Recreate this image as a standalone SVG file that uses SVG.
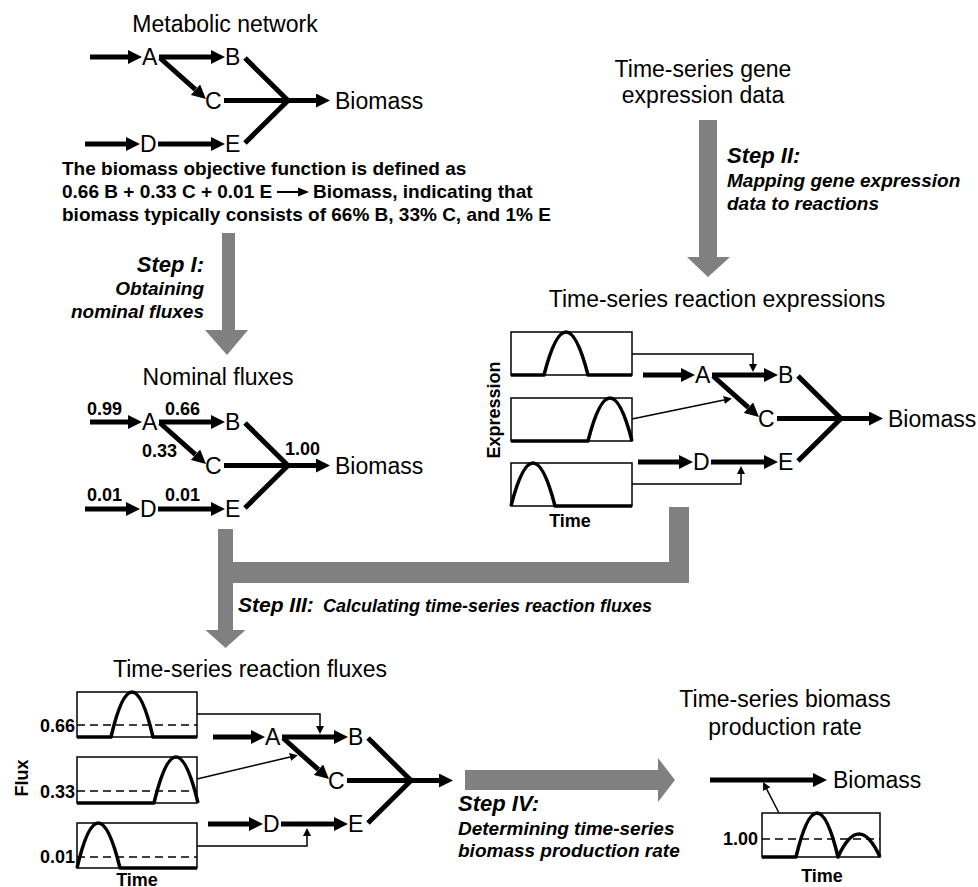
<svg xmlns="http://www.w3.org/2000/svg" xmlns:xlink="http://www.w3.org/1999/xlink" width="978" height="887" viewBox="0 0 978 887">
<style>
text{font-family:"Liberation Sans",Arial,sans-serif;fill:#000}
.ttl{font-size:23px;text-anchor:middle}
.lt{font-size:23px}
.bd{font-size:19px;font-weight:bold}
.num{font-size:18px;font-weight:bold}
.ax{font-size:18px;font-weight:bold;text-anchor:middle}
.sh{font-size:22px;font-weight:bold;font-style:italic}
.ss{font-size:19px;font-weight:bold;font-style:italic}
.thk{stroke:#000;stroke-width:5;fill:none}
.thin{stroke:#000;stroke-width:1.5;fill:none}
.box{stroke:#000;stroke-width:1.5;fill:#fff}
.crv{stroke:#000;stroke-width:3.5;fill:none;stroke-linejoin:round}
.dsh{stroke:#000;stroke-width:1.3;stroke-dasharray:8 5;fill:none}
.gray{fill:#808080}
</style>
<defs>
<marker id="hd" markerUnits="userSpaceOnUse" viewBox="0 -7 14 14" refX="0" refY="0" markerWidth="14" markerHeight="14" orient="auto"><path d="M0,-7 L14,0 L0,7z" fill="#000"/></marker>
<marker id="hs" markerUnits="userSpaceOnUse" viewBox="0 -4 8 8" refX="0" refY="0" markerWidth="8" markerHeight="8" orient="auto"><path d="M0,-4 L8,0 L0,4z" fill="#000"/></marker>
<g id="net">
<path class="thk" d="M90,57 H128" marker-end="url(#hd)"/>
<path class="thk" d="M159,57 H211" marker-end="url(#hd)"/>
<path class="thk" d="M160,58 L195.5,89.7" marker-end="url(#hd)"/>
<path class="thk" d="M245,58 L288,100.5 L245,143"/>
<path class="thk" d="M224,100.5 H316" marker-end="url(#hd)"/>
<path class="thk" d="M85,144 H126" marker-end="url(#hd)"/>
<path class="thk" d="M158,144 H211" marker-end="url(#hd)"/>
<text class="lt" x="142" y="65">A</text>
<text class="lt" x="225" y="65">B</text>
<text class="lt" x="205" y="108.5">C</text>
<text class="lt" x="140" y="152">D</text>
<text class="lt" x="225" y="152">E</text>
</g>
</defs>
<rect width="978" height="887" fill="#fff"/>

<g id="metabolic-network">
<text class="ttl" x="225" y="32">Metabolic network</text>
<use href="#net"/>
<text class="lt" x="335" y="108.5">Biomass</text>
</g>

<g id="objective-function">
<text class="bd" x="62" y="175">The biomass objective function is defined as</text>
<text class="bd" x="62" y="198">0.66 B + 0.33 C + 0.01 E</text>
<path d="M277,192 H299" stroke="#000" stroke-width="2"/>
<path d="M298,187.5 L309,192 L298,196.5z" fill="#000"/>
<text class="bd" x="313" y="198">Biomass, indicating that</text>
<text class="bd" x="62" y="221">biomass typically consists of 66% B, 33% C, and 1% E</text>
</g>

<g id="nominal-fluxes">
<text class="ttl" x="218" y="385">Nominal fluxes</text>
<use href="#net" transform="translate(0,365)"/>
<text class="lt" x="335" y="473.5">Biomass</text>
<text class="num" x="87" y="415">0.99</text>
<text class="num" x="165" y="415">0.66</text>
<text class="num" x="142" y="457">0.33</text>
<text class="num" x="285" y="455">1.00</text>
<text class="num" x="87" y="501">0.01</text>
<text class="num" x="165" y="501">0.01</text>
</g>

<g id="gene-expression-data">
<text class="ttl" x="703" y="77">Time-series gene</text>
<text class="ttl" x="703" y="103">expression data</text>
</g>

<g id="reaction-expressions">
<text class="ttl" x="717" y="307">Time-series reaction expressions</text>
<rect class="box" x="511" y="332" width="121" height="43"/>
<rect class="box" x="511" y="398" width="121" height="43"/>
<rect class="box" x="511" y="463" width="121" height="43"/>
<path class="crv" d="M511,375 H544 Q566,289 588,375 H632"/>
<path class="crv" d="M511,441 H588 Q610,355 632,441"/>
<path class="crv" d="M511,506 Q533,420 555,506 H632"/>
<text class="ax" transform="translate(500,410) rotate(-90)">Expression</text>
<text class="ax" x="570" y="527">Time</text>
<use href="#net" transform="translate(553,318)"/>
<text class="lt" x="888" y="426.5">Biomass</text>
<path class="thin" d="M632,354 H753 V364" marker-end="url(#hs)"/>
<path class="thin" d="M632,419 L724,400" marker-end="url(#hs)"/>
<path class="thin" d="M632,484 H741 V474" marker-end="url(#hs)"/>
</g>

<g id="reaction-fluxes">
<text class="ttl" x="250" y="677">Time-series reaction fluxes</text>
<rect class="box" x="77" y="692" width="120" height="45"/>
<rect class="box" x="77" y="757" width="120" height="46"/>
<rect class="box" x="77" y="823" width="120" height="45"/>
<path class="dsh" d="M77,725 H197"/>
<path class="dsh" d="M77,791 H197"/>
<path class="dsh" d="M77,857 H197"/>
<path class="crv" d="M77,737 H111 Q132,647 153,737 H197"/>
<path class="crv" d="M77,803 H154 Q176,711 198,803"/>
<path class="crv" d="M77,868 Q98,778 120,868 H197"/>
<text class="num" x="75" y="731.5" text-anchor="end">0.66</text>
<text class="num" x="75" y="797.5" text-anchor="end">0.33</text>
<text class="num" x="75" y="863" text-anchor="end">0.01</text>
<text class="ax" transform="translate(28,778) rotate(-90)">Flux</text>
<text class="ax" x="137" y="886">Time</text>
<use href="#net" transform="translate(123,680)"/>
<path class="thin" d="M197,714 H320 V726" marker-end="url(#hs)"/>
<path class="thin" d="M197,779 L290,757" marker-end="url(#hs)"/>
<path class="thin" d="M197,846 H307 V836" marker-end="url(#hs)"/>
</g>

<g id="biomass-production-rate">
<text class="ttl" x="785" y="707">Time-series biomass</text>
<text class="ttl" x="785" y="735">production rate</text>
<path class="thk" d="M710,780 H813" marker-end="url(#hd)"/>
<text class="lt" x="833" y="788">Biomass</text>
<rect class="box" x="762" y="813" width="118" height="44"/>
<path class="dsh" d="M762,839 H880"/>
<path class="crv" d="M762,857 H796 Q817,769 838,857 Q859,811 880,857"/>
<text class="num" x="758" y="845" text-anchor="end">1.00</text>
<text class="ax" x="822" y="882">Time</text>
<path class="thin" d="M779,813 L766.7,789.1" marker-end="url(#hs)"/>
</g>

<g id="connectors">
<g id="step1">
<path class="gray" d="M222,233 H235 V330 H248 L227,355 L205,330 H222 Z"/>
<text class="sh" x="204" y="272" text-anchor="end">Step I:</text>
<text class="ss" x="204" y="295" text-anchor="end">Obtaining</text>
<text class="ss" x="204" y="318" text-anchor="end">nominal fluxes</text>
</g>
<g id="step2">
<path class="gray" d="M699,120 H717 V257 H730 L708,277 L687,257 H699 Z"/>
<text class="sh" x="727" y="163">Step II:</text>
<text class="ss" x="727" y="187">Mapping gene expression</text>
<text class="ss" x="727" y="210">data to reactions</text>
</g>
<g id="step3">
<path class="gray" d="M218,529 H233 V562 H669 V507 H689 V583 H233 V630 H245.5 L225.5,648 L205.5,630 H218 Z"/>
<text x="238" y="612" style="font-size:21px;font-weight:bold;font-style:italic">Step III:</text>
<text x="323" y="612" style="font-size:18px;font-weight:bold;font-style:italic">Calculating time-series reaction fluxes</text>
</g>
<g id="step4">
<path class="gray" d="M465,770 H658 V758 L675,780 L658,802 V790 H465 Z"/>
<text class="sh" x="458" y="811">Step IV:</text>
<text class="ss" x="458" y="835">Determining time-series</text>
<text class="ss" x="458" y="857">biomass production rate</text>
</g>
</g>
</svg>
